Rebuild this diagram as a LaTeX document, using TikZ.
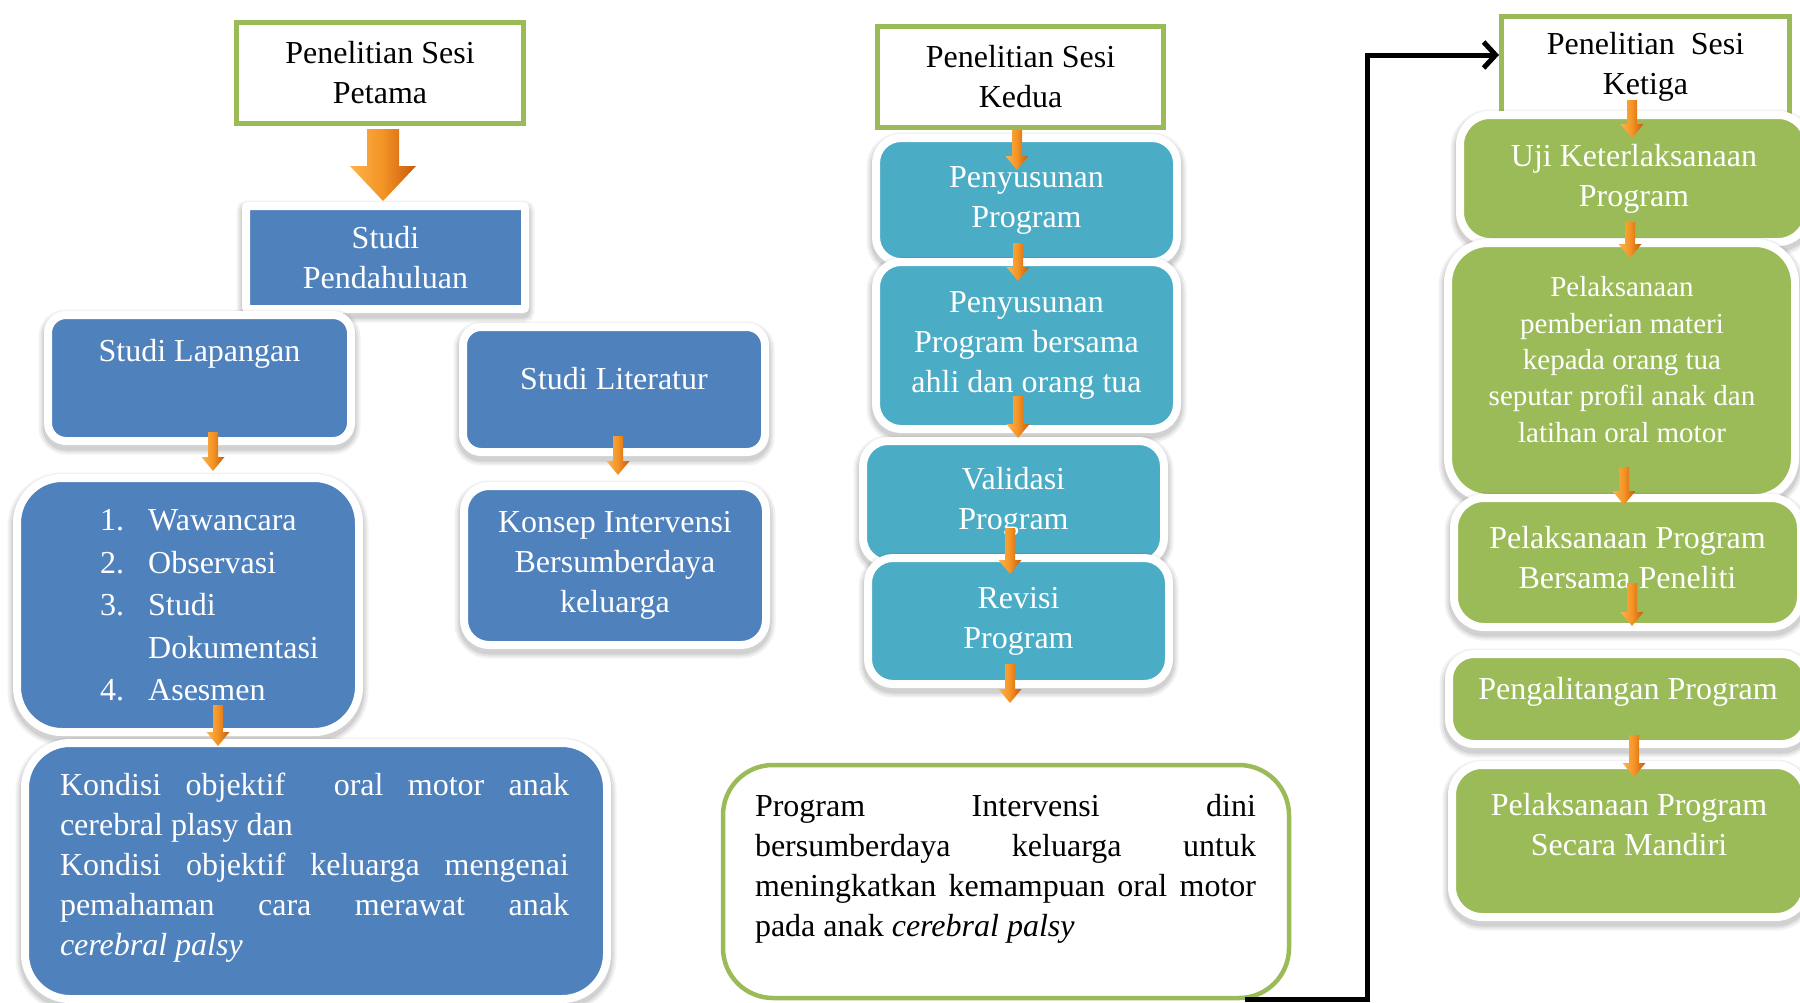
\documentclass[tikz,border=0pt]{standalone}
\usepackage{fontspec}
\setmainfont{Liberation Serif}
\usetikzlibrary{arrows.meta}
\hyphenpenalty=10000 \exhyphenpenalty=10000
\definecolor{blueF}{HTML}{4F81BD}
\definecolor{tealF}{HTML}{4BACC6}
\definecolor{greenF}{HTML}{9BBB59}
\definecolor{orL}{HTML}{FDB44B}
\definecolor{orM}{HTML}{F39325}
\definecolor{orD}{HTML}{C8590A}
\tikzset{
  bigtxt/.style={font=\fontsize{32}{40}\selectfont, align=center, inner sep=0pt},
  smalltxt/.style={font=\fontsize{29}{36.3}\selectfont, align=center, inner sep=0pt},
  wframe/.style={draw=white, line width=8pt, rounded corners=#1pt, text=white, bigtxt,
    preaction={draw=black, draw opacity=0.05, line width=19pt, transform canvas={yshift=-4pt}},
    preaction={draw=black, draw opacity=0.06, line width=15pt, transform canvas={yshift=-4pt}},
    preaction={draw=black, draw opacity=0.08, line width=11pt, transform canvas={yshift=-4pt}}},
  titlebox/.style={draw=greenF, line width=5pt, fill=white, bigtxt},
  conn/.style={draw=black, line width=5pt, -{Straight Barb[length=12pt,width=26pt]}},
}
\newcommand\oarr[3]{%
  \shade[left color=orL, right color=orD, middle color=orM]
   ({#1-5},#2) -- ({#1+5},#2) -- ({#1+5},{#3-14}) -- ({#1+11.5},{#3-14}) --
   (#1,#3) -- ({#1-11.5},{#3-14}) -- ({#1-5},{#3-14}) -- cycle;}
\begin{document}
\begin{tikzpicture}[x=1pt,y=-1pt]
\useasboundingbox (0,0) rectangle (1800,1002);
\clip (0,0) rectangle (1800,1002);
\fill[white] (0,0) rectangle (1800,1002);

% ---------- column 1 ----------
\node[titlebox, minimum width=287pt, minimum height=101pt] (s1) at (380,73) {Penelitian Sesi\\Petama};
\node[wframe=2, fill=blueF, minimum width=279pt, minimum height=103pt] (pend) at (385.5,257.5) {Studi\\Pendahuluan};
\node[wframe=18, fill=blueF, minimum width=303pt, minimum height=126pt] (lap) at (199.5,378) {};
\node[bigtxt, text=white] (lapT) at (199.5,354) {Studi Lapangan};
\node[wframe=18, fill=blueF, minimum width=302pt, minimum height=125pt] (lit) at (614,389.5) {};
\node[bigtxt, text=white] (litT) at (614,379) {Studi Literatur};
\node[wframe=45, fill=blueF, minimum width=342pt, minimum height=254pt] (lst) at (188,605) {};
\node[bigtxt, text=white, anchor=west] (lstT) at (100,607)
  {\def\arraystretch{1.0625}\begin{tabular}{@{}l@{\hspace{24pt}}l@{}}1. & Wawancara\\ 2. & Observasi\\ 3. & Studi\\ & Dokumentasi\\ 4. & Asesmen\end{tabular}};
\node[wframe=25, fill=blueF, minimum width=302pt, minimum height=159pt] (kon) at (615,565.5) {Konsep Intervensi\\Bersumberdaya\\keluarga};
\node[wframe=45, fill=blueF, minimum width=582pt, minimum height=256pt] (kond) at (316,871) {};
\node[bigtxt, text=white, text width=509pt, align=justify] (kondT) at (314.5,868)
  {Kondisi objektif\ \ oral motor anak\linebreak cerebral plasy dan\par
   Kondisi objektif keluarga mengenai\linebreak pemahaman cara merawat anak\linebreak
   \textit{cerebral palsy}};

% ---------- program box ----------
\node[draw=greenF, line width=4.5pt, fill=white, rounded corners=50pt, minimum width=566pt, minimum height=233pt] (prog) at (1006,881.5) {};
\node[bigtxt, text width=501pt, align=justify] (progT) at (1005.5,869)
  {Program Intervensi dini\linebreak bersumberdaya keluarga untuk\linebreak meningkatkan kemampuan oral motor\linebreak pada anak \textit{cerebral palsy}};

% ---------- column 2 ----------
\node[titlebox, minimum width=286pt, minimum height=101pt] (s2) at (1020.5,77) {Penelitian Sesi\\Kedua};
\node[wframe=25, fill=tealF, minimum width=301pt, minimum height=124pt] (pen1) at (1026.5,200) {Penyusunan\\Program};
\node[wframe=25, fill=tealF, minimum width=301pt, minimum height=167pt] (pen2) at (1026.5,345.5) {Penyusunan\\Program bersama\\ahli dan orang tua};
\node[wframe=25, fill=tealF, minimum width=301pt, minimum height=122pt] (val) at (1013.5,502) {Validasi\\Program};
\node[wframe=25, fill=tealF, minimum width=301pt, minimum height=126pt] (rev) at (1018.5,621) {Revisi\\Program};
\coordinate (revEnd) at (1010,703);

% ---------- column 3 ----------
\node[titlebox, minimum width=288pt, minimum height=101pt] (s3) at (1645.5,67) {Penelitian~ Sesi\\Ketiga};
\node[wframe=30, fill=greenF, minimum width=348pt, minimum height=127pt] (uji) at (1634,178.5) {Uji Keterlaksanaan\\Program};
\node[wframe=40, fill=greenF, minimum width=347pt, minimum height=255pt] (pemb) at (1621.5,370.5) {};
\node[smalltxt, text=white] (pembT) at (1622,359.5) {Pelaksanaan\\pemberian materi\\kepada orang tua\\seputar profil anak dan\\latihan oral motor};
\node[wframe=30, fill=greenF, minimum width=347pt, minimum height=129pt] (bers) at (1627.5,562.5) {};
\node[bigtxt, text=white] (bersT) at (1627.5,558) {Pelaksanaan Program\\Bersama Peneliti};
\node[wframe=25, fill=greenF, minimum width=358pt, minimum height=90pt] (peng) at (1628,699) {};
\node[bigtxt, text=white] (pengT) at (1628,692) {Pengalitangan Program};
\node[wframe=30, fill=greenF, minimum width=354pt, minimum height=152pt] (mand) at (1629,841) {};
\node[bigtxt, text=white] (mandT) at (1629,824.5) {Pelaksanaan Program\\Secara Mandiri};

% ---------- black connector ----------
\coordinate (c1) at (1245,999);
\draw[conn] (c1) -- (1367,999) |- ([yshift=12pt]s3.west);

% ---------- orange arrows ----------
\shade[left color=orL, right color=orD, middle color=orM]
  (367,129) -- (399,129) -- (399,166) -- (416,166) -- (383,201) -- (350,166) -- (367,166) -- cycle;
\oarr{213}{432}{471}
\oarr{618}{436}{475}
\oarr{218}{705}{746}
\oarr{1017}{130}{170}
\oarr{1018}{243}{281}
\oarr{1018}{396}{438}
\oarr{1010}{528}{574}
\oarr{1010}{664}{703}
\oarr{1632}{100}{138}
\oarr{1630}{222}{258}
\oarr{1624}{467}{505}
\oarr{1632}{583}{626}
\oarr{1634}{735}{777}
\end{tikzpicture}
\end{document}
